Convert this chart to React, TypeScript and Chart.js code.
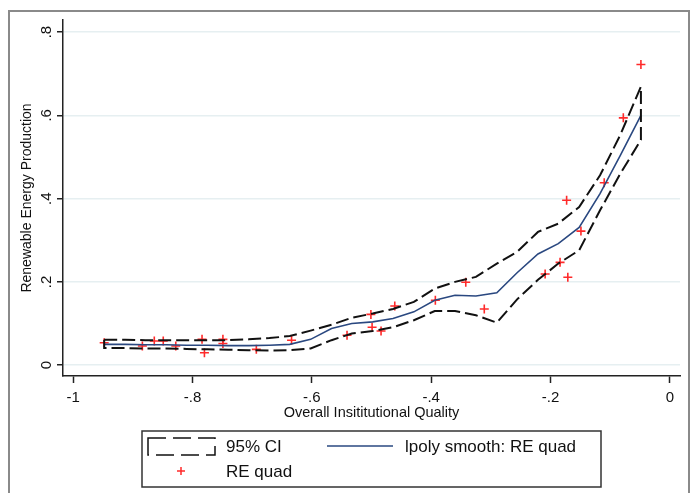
import { useEffect, useRef } from "react";
import { Chart, registerables } from "chart.js";

Chart.register(...registerables);

// evaluation grid of the local polynomial smooth
const gridX = [-0.948, -0.913, -0.879, -0.844, -0.81, -0.775, -0.74, -0.706, -0.671, -0.637, -0.602, -0.567, -0.533, -0.498, -0.464, -0.429, -0.394, -0.36, -0.325, -0.29, -0.256, -0.221, -0.187, -0.152, -0.117, -0.083, -0.0485];
const smoothY = [0.05, 0.05, 0.049, 0.049, 0.048, 0.048, 0.047, 0.047, 0.048, 0.05, 0.062, 0.088, 0.1, 0.104, 0.112, 0.128, 0.156, 0.168, 0.166, 0.174, 0.222, 0.267, 0.292, 0.331, 0.412, 0.504, 0.6];
const ciUpper = [0.061, 0.061, 0.06, 0.06, 0.06, 0.06, 0.06, 0.062, 0.065, 0.07, 0.083, 0.097, 0.114, 0.124, 0.135, 0.152, 0.184, 0.2, 0.212, 0.244, 0.272, 0.32, 0.34, 0.38, 0.456, 0.553, 0.669];
const ciLower = [0.041, 0.041, 0.04, 0.04, 0.039, 0.038, 0.037, 0.036, 0.035, 0.036, 0.04, 0.06, 0.076, 0.082, 0.091, 0.108, 0.13, 0.13, 0.12, 0.102, 0.158, 0.205, 0.244, 0.276, 0.372, 0.46, 0.541];

// observations (RE quad)
const obsX = [-0.948, -0.884, -0.864, -0.849, -0.828, -0.784, -0.78, -0.749, -0.749, -0.693, -0.634, -0.541, -0.501, -0.499, -0.484, -0.461, -0.393, -0.342, -0.311, -0.209, -0.184, -0.173, -0.171, -0.149, -0.11, -0.078, -0.0485];
const obsY = [0.054, 0.046, 0.058, 0.058, 0.046, 0.062, 0.03, 0.062, 0.052, 0.038, 0.06, 0.072, 0.122, 0.091, 0.082, 0.142, 0.156, 0.199, 0.135, 0.219, 0.247, 0.396, 0.211, 0.322, 0.438, 0.594, 0.722];

const xTicks = [-1, -0.8, -0.6, -0.4, -0.2, 0];
const yTicks = [0, 0.2, 0.4, 0.6, 0.8];

const FONT = '"Liberation Sans", Arial, sans-serif';
const DASH = [13, 5];

const stataNum = (v: number) => {
  if (v === 0) return "0";
  return String(Number(v.toFixed(1))).replace("0.", ".");
};

// outer graph frame and the boxed two-column legend
const framePlugin = {
  id: "stataFrame",
  afterDraw(chart: Chart) {
    const ctx = chart.ctx;
    const ds = chart.data.datasets as any[];
    ctx.save();
    ctx.strokeStyle = "#8a8a8a";
    ctx.lineWidth = 2;
    ctx.strokeRect(9, 11, 680, 600);

    ctx.strokeStyle = "#333";
    ctx.lineWidth = 1.5;
    ctx.strokeRect(142, 431, 459, 56);

    ctx.font = `17px ${FONT}`;
    ctx.fillStyle = "#111";
    ctx.textBaseline = "middle";

    // 95% CI
    ctx.strokeStyle = ds[0].borderColor;
    ctx.lineWidth = 1.5;
    ctx.setLineDash([18, 7]);
    ctx.strokeRect(148, 438, 67, 17);
    ctx.setLineDash([]);
    ctx.fillText(ds[0].label, 226, 447);

    // smooth
    ctx.strokeStyle = ds[1].borderColor;
    ctx.lineWidth = 1.5;
    ctx.beginPath();
    ctx.moveTo(327, 446);
    ctx.lineTo(393, 446);
    ctx.stroke();
    ctx.fillText(ds[1].label, 405, 447);

    // markers
    ctx.strokeStyle = ds[2].borderColor;
    ctx.lineWidth = 1.5;
    ctx.beginPath();
    ctx.moveTo(177, 471);
    ctx.lineTo(185, 471);
    ctx.moveTo(181, 467);
    ctx.lineTo(181, 475);
    ctx.stroke();
    ctx.fillText(ds[2].label, 226, 472);
    ctx.restore();
  },
};

export default function App() {
  const canvasRef = useRef<HTMLCanvasElement>(null);
  const chartRef = useRef<Chart | null>(null);

  useEffect(() => {
    if (!canvasRef.current) return;
    if (chartRef.current) chartRef.current.destroy();

    // CI outline: upper band left to right, lower band back, closed
    const ciOutline = [
      ...gridX.map((x, i) => ({ x, y: ciUpper[i] })),
      ...gridX.map((x, i) => ({ x, y: ciLower[i] })).reverse(),
      { x: gridX[0], y: ciUpper[0] },
    ];

    chartRef.current = new Chart(canvasRef.current, {
      type: "scatter",
      data: {
        datasets: [
          {
            label: "95% CI",
            data: ciOutline,
            showLine: true,
            borderColor: "#111",
            borderWidth: 2,
            borderDash: DASH,
            pointRadius: 0,
            fill: false,
            tension: 0,
          },
          {
            label: "lpoly smooth: RE quad",
            data: gridX.map((x, i) => ({ x, y: smoothY[i] })),
            showLine: true,
            borderColor: "#2a4880",
            borderWidth: 1.6,
            pointRadius: 0,
            fill: false,
            tension: 0,
          },
          {
            label: "RE quad",
            data: obsX.map((x, i) => ({ x, y: obsY[i] })),
            pointStyle: "cross",
            pointRadius: 4.5,
            borderColor: "#ff2a2a",
            backgroundColor: "#ff2a2a",
            pointBorderWidth: 1.6,
          },
        ],
      },
      options: {
        responsive: true,
        maintainAspectRatio: false,
        animation: false,
        layout: { padding: { left: 0, top: 20, right: 15, bottom: 70 } },
        plugins: {
          legend: { display: false },
          tooltip: { enabled: false },
        },
        scales: {
          x: {
            type: "linear",
            min: -1.017,
            max: 0.017,
            afterBuildTicks: (scale: any) => {
              scale.ticks = xTicks.map((value) => ({ value }));
            },
            afterFit: (scale: any) => {
              scale.height = 47;
            },
            border: { display: true, color: "#222", width: 1.5 },
            grid: { drawOnChartArea: false, drawTicks: true, tickLength: 7, tickColor: "#222", tickWidth: 1.5 },
            ticks: {
              color: "#111",
              font: { family: FONT, size: 15 },
              padding: 6,
              maxRotation: 0,
              autoSkip: false,
              callback: (v: any) => stataNum(Number(v)),
            },
            title: {
              display: true,
              text: "Overall Insititutional Quality",
              color: "#111",
              font: { family: FONT, size: 14.5 },
              padding: { top: 0, bottom: 1 },
            },
          },
          y: {
            type: "linear",
            min: -0.026,
            max: 0.829,
            afterBuildTicks: (scale: any) => {
              scale.ticks = yTicks.map((value) => ({ value }));
            },
            afterFit: (scale: any) => {
              scale.width = 63;
            },
            border: { display: true, color: "#222", width: 1.5 },
            grid: { color: "#e6eff1", lineWidth: 1.5, tickLength: 6, tickColor: "#222", tickWidth: 1.5 },
            ticks: {
              color: "#111",
              font: { family: FONT, size: 15 },
              padding: 4,
              minRotation: 90,
              maxRotation: 90,
              crossAlign: "center",
              autoSkip: false,
              callback: (v: any) => stataNum(Number(v)),
            },
            title: {
              display: true,
              text: "Renewable Energy Production",
              color: "#111",
              font: { family: FONT, size: 14 },
              padding: { top: 18.5, bottom: 0 },
            },
          },
        },
      },
      plugins: [framePlugin],
    });

    return () => {
      if (chartRef.current) {
        chartRef.current.destroy();
        chartRef.current = null;
      }
    };
  }, []);

  return (
    <div style={{ position: "absolute", left: 0, top: 0, width: 695, height: 493, background: "#fff" }}>
      <canvas ref={canvasRef}></canvas>
    </div>
  );
}
